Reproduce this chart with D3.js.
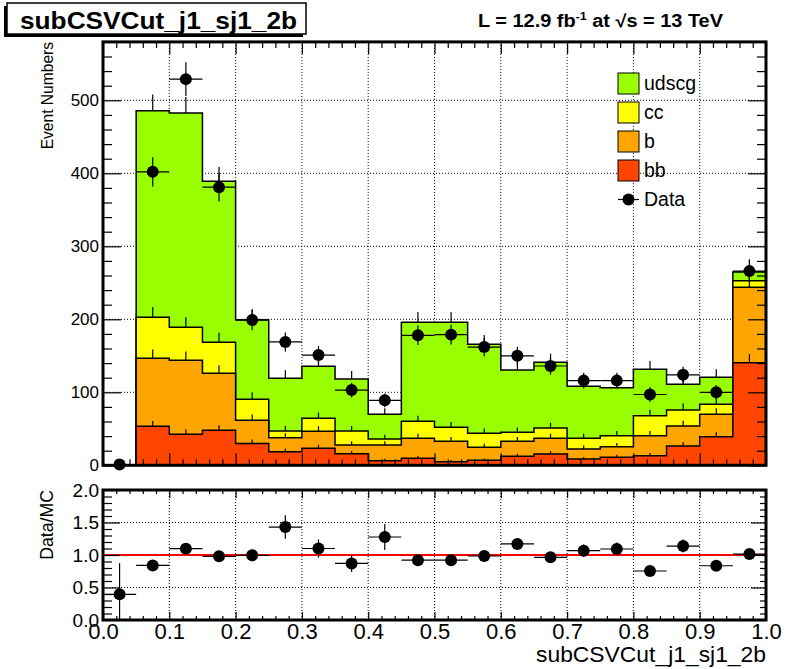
<!DOCTYPE html>
<html><head><meta charset="utf-8">
<script src="https://cdn.jsdelivr.net/npm/d3@7/dist/d3.min.js"></script>
<style>
body{margin:0;background:#fff}
svg{display:block;font-family:"Liberation Sans",Arial,Helvetica,sans-serif}
</style>
</head><body>
<svg id="c" width="798" height="669"></svg>
<script>
// ---------------- data ----------------
const binLow = [0.00,0.05,0.10,0.15,0.20,0.25,0.30,0.35,0.40,0.45,0.50,0.55,0.60,0.65,0.70,0.75,0.80,0.85,0.90,0.95];
const binWidth = 0.05;
const bbVals    = [0, 53.4, 42.5, 48.0, 30.0, 18.7, 23.3, 15.9, 6.3, 9.6, 5.0, 6.8, 12.3, 15.5, 8.6, 11.0, 13.2, 26.4, 39.0, 140.5];
const bVals     = [0, 93.2, 101.3, 78.0, 31.6, 19.1, 23.3, 11.9, 21.5, 27.4, 27.9, 17.8, 20.6, 21.5, 13.7, 14.5, 27.4, 27.4, 30.9, 103.3];
const ccVals    = [0, 56.1, 45.2, 42.5, 28.8, 9.2, 17.8, 19.2, 8.2, 23.2, 19.1, 19.2, 12.3, 14.0, 14.7, 15.1, 27.4, 22.0, 13.7, 9.1];
const udscgVals = [0, 283.1, 293.6, 220.5, 109.1, 72.2, 71.2, 71.2, 33.8, 135.7, 143.9, 121.9, 85.3, 90.0, 71.2, 65.7, 63.5, 35.1, 36.9, 11.9];
const dataVals  = [1, 402, 529, 381, 199, 169, 151, 103, 89, 178, 179, 162, 150, 136, 116, 116, 97, 124, 100, 266];
const ratioVals = [0.395, 0.84, 1.097, 0.98, 0.995, 1.43, 1.10, 0.87, 1.277, 0.92, 0.92, 0.985, 1.17, 0.964, 1.066, 1.092, 0.754, 1.138, 0.835, 1.015];
const ratioErrs = [0.48, 0.05, 0.06, 0.06, 0.09, 0.18, 0.14, 0.13, 0.20, 0.085, 0.085, 0.08, 0.09, 0.085, 0.095, 0.10, 0.07, 0.10, 0.08, 0.06];
const yTicksTop = [0, 100, 200, 300, 400, 500];
const yTicksRatio = [0, 0.5, 1.0, 1.5, 2.0];
const ratioLabels = ["0.0", "0.5", "1.0", "1.5", "2.0"];
const xTicks = [0, 0.1, 0.2, 0.3, 0.4, 0.5, 0.6, 0.7, 0.8, 0.9, 1.0];
const xLabels = ["0.0", "0.1", "0.2", "0.3", "0.4", "0.5", "0.6", "0.7", "0.8", "0.9", "1.0"];
const seriesKeys = ["bb", "b", "cc", "udscg"];
const seriesColors = {udscg: "#99ff00", cc: "#ffff00", b: "#ffa500", bb: "#ff4500"};
const legendItems = ["udscg", "cc", "b", "bb", "Data"];
const titleText = "subCSVCut_j1_sj1_2b";
const xTitle = "subCSVCut_j1_sj1_2b";
const yTitleTop = "Event Numbers";
const yTitleRatio = "Data/MC";

// ---------------- layout ----------------
const svg = d3.select("#c");
const X0 = 103, X1 = 766;
const x = d3.scaleLinear().domain([0, 1]).range([X0, X1]);
const yT = d3.scaleLinear().domain([0, 580]).range([465.3, 41.9]);
const yR = d3.scaleLinear().domain([0, 2]).range([620, 490]);

const table = binLow.map((lo, i) => ({lo, bb: bbVals[i], b: bVals[i], cc: ccVals[i], udscg: udscgVals[i]}));
const stacked = d3.stack().keys(seriesKeys)(table);

// grids (top)
const gTop = svg.append("g");
gTop.selectAll("line.gx").data(xTicks.slice(1, -1)).join("line")
  .attr("x1", d => x(d)).attr("x2", d => x(d)).attr("y1", yT(580)).attr("y2", yT(0))
  .attr("stroke", "#000").attr("stroke-width", 1).attr("stroke-dasharray", "1,2");
gTop.selectAll("line.gy").data(yTicksTop.slice(1)).join("line")
  .attr("x1", X0).attr("x2", X1).attr("y1", d => yT(d)).attr("y2", d => yT(d))
  .attr("stroke", "#000").attr("stroke-width", 1).attr("stroke-dasharray", "1,2");

// stacked histograms, drawn from the cumulative top downward
const layersDesc = stacked.slice().reverse();
layersDesc.forEach(layer => {
  const pts = layer.map((d, i) => ({x: binLow[i], v: d[1]}));
  pts.push({x: binLow[binLow.length - 1] + binWidth, v: layer[layer.length - 1][1]});
  const area = d3.area().curve(d3.curveStepAfter)
    .x(d => x(d.x)).y0(yT(0)).y1(d => yT(d.v));
  svg.append("path").attr("d", area(pts))
    .attr("fill", seriesColors[layer.key]).attr("stroke", "#000").attr("stroke-width", 1.5)
    .attr("stroke-linejoin", "miter");
  // statistical error tick (upper half visible)
  svg.append("g").selectAll("line").data(layer.filter(d => d[1] > 0)).join("line")
    .attr("x1", d => x(d.data.lo + binWidth / 2)).attr("x2", d => x(d.data.lo + binWidth / 2))
    .attr("y1", d => yT(d[1])).attr("y2", d => yT(d[1] + Math.sqrt(d[1])))
    .attr("stroke", "#000").attr("stroke-width", 1.2);
});

// data points
const gData = svg.append("g");
dataVals.forEach((v, i) => {
  const cx = x(binLow[i] + binWidth / 2);
  const e = Math.sqrt(v);
  gData.append("line").attr("x1", x(binLow[i])).attr("x2", x(binLow[i] + binWidth))
    .attr("y1", yT(v)).attr("y2", yT(v)).attr("stroke", "#000").attr("stroke-width", 1.2);
  gData.append("line").attr("x1", cx).attr("x2", cx)
    .attr("y1", yT(Math.max(0, v - e))).attr("y2", yT(v + e)).attr("stroke", "#000").attr("stroke-width", 1.2);
  gData.append("circle").attr("cx", cx).attr("cy", yT(v)).attr("r", 6).attr("fill", "#000");
});

// axes (top pad)
function minorRange(a, b, step, majorStep) {
  return d3.range(a, b + step / 2, step).filter(v => Math.abs(v / majorStep - Math.round(v / majorStep)) > 1e-6);
}
const yMinorTop = minorRange(0, 580, 20, 100);
const xMinor = minorRange(0, 1, 0.02, 0.1);

function axisG(gen, tx, ty) {
  const g = svg.append("g").attr("transform", `translate(${tx},${ty})`).call(gen);
  g.select(".domain").remove();
  g.selectAll(".tick line").attr("stroke", "#000").attr("stroke-width", 1.2);
  return g;
}
const yLab = axisG(d3.axisLeft(yT).tickValues(yTicksTop).tickSize(-18).tickPadding(4).tickFormat(d3.format("d")), X0, 0);
yLab.selectAll("text").attr("font-size", 17).attr("font-family", "Liberation Sans, Arial, sans-serif").attr("fill", "#000");
axisG(d3.axisLeft(yT).tickValues(yMinorTop).tickSize(-9).tickFormat(""), X0, 0);
axisG(d3.axisRight(yT).tickValues(yTicksTop).tickSize(-18).tickFormat(""), X1, 0);
axisG(d3.axisRight(yT).tickValues(yMinorTop).tickSize(-9).tickFormat(""), X1, 0);
axisG(d3.axisBottom(x).tickValues(xTicks).tickSize(-12).tickFormat(""), 0, yT(0));
axisG(d3.axisBottom(x).tickValues(xMinor).tickSize(-6).tickFormat(""), 0, yT(0));
axisG(d3.axisTop(x).tickValues(xTicks).tickSize(-12).tickFormat(""), 0, yT(580));
axisG(d3.axisTop(x).tickValues(xMinor).tickSize(-6).tickFormat(""), 0, yT(580));

// frame top
svg.append("rect").attr("x", X0).attr("y", yT(580)).attr("width", X1 - X0).attr("height", yT(0) - yT(580))
  .attr("fill", "none").attr("stroke", "#000").attr("stroke-width", 3);

// y title top
svg.append("text").attr("transform", `translate(52.5,${yT(580)}) rotate(-90)`)
  .attr("text-anchor", "end").attr("font-size", 15.6).text(yTitleTop);

// legend
const legX = 618, legY0 = 73, legStep = 29;
legendItems.forEach((k, i) => {
  const yy = legY0 + i * legStep;
  if (k === "Data") {
    svg.append("line").attr("x1", legX).attr("x2", legX + 21).attr("y1", yy + 10.5).attr("y2", yy + 10.5)
      .attr("stroke", "#000").attr("stroke-width", 1.2);
    svg.append("circle").attr("cx", legX + 10.5).attr("cy", yy + 10.5).attr("r", 6).attr("fill", "#000");
  } else {
    svg.append("rect").attr("x", legX).attr("y", yy).attr("width", 21).attr("height", 21)
      .attr("fill", seriesColors[k]).attr("stroke", "#000").attr("stroke-width", 1);
  }
  svg.append("text").attr("x", legX + 26).attr("y", yy + 17).attr("font-size", 19.5).text(k);
});

// title box
svg.append("rect").attr("x", 4).attr("y", 6).attr("width", 299).attr("height", 31).attr("fill", "#000");
svg.append("rect").attr("x", 7).attr("y", 3).attr("width", 299).attr("height", 31)
  .attr("fill", "#fff").attr("stroke", "#000").attr("stroke-width", 1.5);
svg.append("text").attr("x", 20).attr("y", 28.5).attr("font-size", 23.5).attr("font-weight", "bold")
  .attr("textLength", 277).attr("lengthAdjust", "spacingAndGlyphs").text(titleText);

// lumi text
const lumi = svg.append("text").attr("x", 478).attr("y", 26.5).attr("font-size", 17.5).attr("font-weight", "bold")
  .attr("textLength", 245).attr("lengthAdjust", "spacingAndGlyphs");
lumi.append("tspan").text("L = 12.9 fb");
lumi.append("tspan").attr("font-size", 11).attr("dy", -7).text("-1");
lumi.append("tspan").attr("dy", 7).text(" at  \u221As = 13 TeV");

// ---------------- ratio pad ----------------
const gR = svg.append("g");
gR.selectAll("line.gx").data(xTicks.slice(1, -1)).join("line")
  .attr("x1", d => x(d)).attr("x2", d => x(d)).attr("y1", yR(2)).attr("y2", yR(0))
  .attr("stroke", "#000").attr("stroke-width", 1).attr("stroke-dasharray", "1,2");
gR.selectAll("line.gy").data([0.5, 1.5]).join("line")
  .attr("x1", X0).attr("x2", X1).attr("y1", d => yR(d)).attr("y2", d => yR(d))
  .attr("stroke", "#000").attr("stroke-width", 1).attr("stroke-dasharray", "1,2");

svg.append("line").attr("x1", x(0)).attr("x2", x(1)).attr("y1", yR(1)).attr("y2", yR(1))
  .attr("stroke", "#ff0000").attr("stroke-width", 2.2);

const gRP = svg.append("g");
ratioVals.forEach((r, i) => {
  const cx = x(binLow[i] + binWidth / 2);
  const e = ratioErrs[i];
  gRP.append("line").attr("x1", x(binLow[i])).attr("x2", x(binLow[i] + binWidth))
    .attr("y1", yR(r)).attr("y2", yR(r)).attr("stroke", "#000").attr("stroke-width", 1.2);
  gRP.append("line").attr("x1", cx).attr("x2", cx)
    .attr("y1", yR(Math.max(0, r - e))).attr("y2", yR(Math.min(2, r + e))).attr("stroke", "#000").attr("stroke-width", 1.2);
  gRP.append("circle").attr("cx", cx).attr("cy", yR(r)).attr("r", 6).attr("fill", "#000");
});

const yMinorR = minorRange(0, 2, 0.1, 0.5);
const yRLab = axisG(d3.axisLeft(yR).tickValues(yTicksRatio).tickSize(-17).tickPadding(4)
  .tickFormat((d, i) => ratioLabels[i]), X0, 0);
yRLab.selectAll("text").attr("font-size", 19).attr("font-family", "Liberation Sans, Arial, sans-serif").attr("fill", "#000");
axisG(d3.axisLeft(yR).tickValues(yMinorR).tickSize(-9).tickFormat(""), X0, 0);
axisG(d3.axisRight(yR).tickValues(yTicksRatio).tickSize(-15).tickFormat(""), X1, 0);
axisG(d3.axisRight(yR).tickValues(yMinorR).tickSize(-6).tickFormat(""), X1, 0);
const xLab = axisG(d3.axisBottom(x).tickValues(xTicks).tickSize(-8).tickPadding(3)
  .tickFormat((d, i) => xLabels[i]), 0, yR(0));
xLab.selectAll("text").attr("font-size", 22).attr("font-family", "Liberation Sans, Arial, sans-serif").attr("fill", "#000");
axisG(d3.axisBottom(x).tickValues(xMinor).tickSize(-4).tickFormat(""), 0, yR(0));
axisG(d3.axisTop(x).tickValues(xTicks).tickSize(-8).tickFormat(""), 0, yR(2));
axisG(d3.axisTop(x).tickValues(xMinor).tickSize(-4).tickFormat(""), 0, yR(2));

svg.append("rect").attr("x", X0).attr("y", yR(2)).attr("width", X1 - X0).attr("height", yR(0) - yR(2))
  .attr("fill", "none").attr("stroke", "#000").attr("stroke-width", 3);

svg.append("text").attr("transform", `translate(53,${yR(2)}) rotate(-90)`)
  .attr("text-anchor", "end").attr("font-size", 17.7).text(yTitleRatio);
svg.append("text").attr("x", X1).attr("y", 661.5).attr("text-anchor", "end").attr("font-size", 22)
  .attr("textLength", 230).attr("lengthAdjust", "spacingAndGlyphs").text(xTitle);
</script>
</body></html>
